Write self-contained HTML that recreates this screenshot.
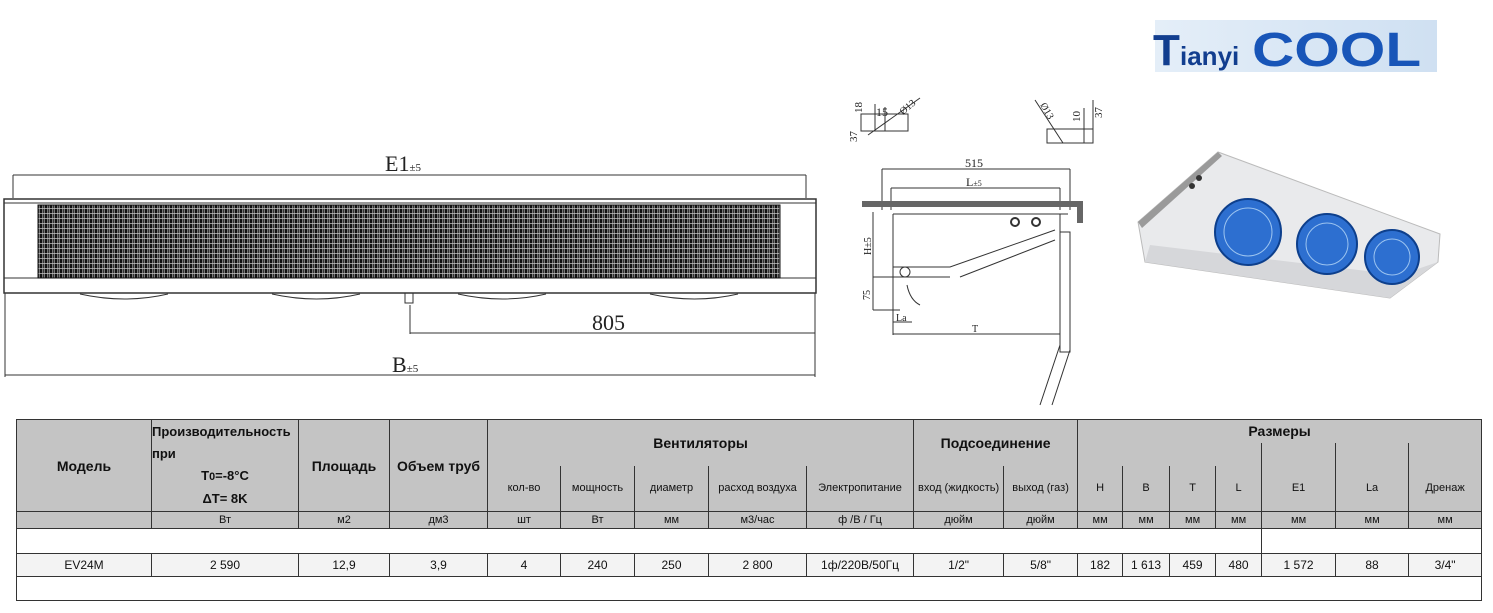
<!DOCTYPE html>
<html><head><meta charset="utf-8">
<style>
body{margin:0;width:1493px;height:613px;background:#fff;position:relative;overflow:hidden;font-family:"Liberation Sans","DejaVu Sans",sans-serif;}
svg{position:absolute;left:0;top:0}
table{position:absolute;left:16px;top:419px;border-collapse:collapse;table-layout:fixed;font-family:"Liberation Sans",sans-serif;color:#111}
td{border:1px solid #333;text-align:center;padding:0;font-size:11px;overflow:hidden;white-space:nowrap}
.h{background:#c4c4c4;border-top:none;border-bottom:none}
.b{font-weight:bold;font-size:14px}
.u{background:#c4c4c4;font-size:11px;height:16px;line-height:16px}
.d{background:#f3f3f3;font-size:12px;height:22px}
</style></head><body>
<svg width="1493" height="613" viewBox="0 0 1493 613">
<defs>
<pattern id="coil" width="5" height="5" patternUnits="userSpaceOnUse">
<rect width="5" height="5" fill="#777"/>
<rect x="0" y="0" width="2" height="5" fill="#111"/>
<rect x="3" y="0" width="1" height="5" fill="#333"/>
<rect x="0" y="3" width="5" height="1" fill="#ccc" opacity="0.7"/>
</pattern>
</defs>
<g stroke="#333" fill="none" stroke-width="1">
<line x1="13" y1="175" x2="806" y2="175"/>
<line x1="13" y1="175" x2="13" y2="198"/><line x1="806" y1="175" x2="806" y2="198"/>
<rect x="4" y="199" width="812" height="94" stroke-width="1.5"/>
<line x1="4" y1="278" x2="816" y2="278"/>
<line x1="4" y1="203" x2="816" y2="203"/>
<rect x="38" y="205" width="742" height="73" fill="url(#coil)" stroke="#111"/>
<line x1="410" y1="305" x2="410" y2="334"/>
<rect x="405" y="293" width="8" height="10"/>
<line x1="410" y1="333" x2="815" y2="333"/>
<line x1="815" y1="293" x2="815" y2="377"/>
<line x1="5" y1="293" x2="5" y2="377"/>
<line x1="5" y1="375" x2="815" y2="375"/>
<path d="M80 294 Q125 304 168 294 M272 294 Q317 304 360 294 M458 294 Q503 304 546 294 M650 294 Q695 304 738 294"/>
<rect x="861" y="114" width="47" height="17"/>
<line x1="875" y1="104" x2="875" y2="131"/><line x1="885" y1="107" x2="885" y2="131"/>
<line x1="868" y1="135" x2="920" y2="98"/>
<rect x="1047" y="129" width="46" height="14"/>
<line x1="1093" y1="100" x2="1093" y2="143"/><line x1="1084" y1="108" x2="1084" y2="143"/>
<line x1="1035" y1="100" x2="1063" y2="143"/>
<line x1="882" y1="169" x2="1070" y2="169"/>
<line x1="882" y1="169" x2="882" y2="210"/><line x1="1070" y1="169" x2="1070" y2="210"/>
<line x1="891" y1="188" x2="1060" y2="188"/>
<line x1="891" y1="188" x2="891" y2="210"/><line x1="1060" y1="188" x2="1060" y2="210"/>
<line x1="893" y1="214" x2="893" y2="335"/>
<line x1="1060" y1="214" x2="1060" y2="345"/>
<path d="M893 214 H1068 M893 267 H950 L1055 230 M960 277 L1055 240 M893 277 H950"/>
<rect x="1060" y="232" width="10" height="120"/>
<path d="M1060 345 L1040 405 M1070 350 L1052 405"/>
<line x1="873" y1="212" x2="873" y2="310"/>
<line x1="873" y1="277" x2="900" y2="277"/>
<line x1="873" y1="310" x2="900" y2="310"/>
<line x1="893" y1="322" x2="912" y2="322"/>
<line x1="893" y1="334" x2="1060" y2="334"/>
<path d="M907 285 Q910 300 920 305"/>
<circle cx="1015" cy="222" r="4" stroke-width="2"/><circle cx="1036" cy="222" r="4" stroke-width="2"/>
<circle cx="905" cy="272" r="5"/>
</g>
<rect x="862" y="201" width="220" height="6" fill="#666"/>
<rect x="1077" y="201" width="6" height="22" fill="#666"/>
<g font-family="Liberation Serif,serif" fill="#222">
<text x="385" y="171" font-size="22">E1<tspan font-size="11">±5</tspan></text>
<text x="592" y="330" font-size="22">805</text>
<text x="392" y="372" font-size="22">B<tspan font-size="11">±5</tspan></text>
<text x="965" y="167" font-size="12">515</text>
<text x="966" y="186" font-size="12">L<tspan font-size="8">±5</tspan></text>
<text x="972" y="332" font-size="10">T</text>
<text x="896" y="321" font-size="10">La</text>
<text x="870" y="300" font-size="10" transform="rotate(-90 870 300)">75</text>
<text x="871" y="255" font-size="10" transform="rotate(-90 871 255)">H±5</text>
<text x="862" y="113" font-size="11" transform="rotate(-90 862 113)">18</text>
<text x="857" y="142" font-size="11" transform="rotate(-90 857 142)">37</text>
<text x="876" y="116" font-size="12">15</text>
<text x="903" y="115" font-size="10" transform="rotate(-40 903 115)">Ø13</text>
<text x="1080" y="122" font-size="11" transform="rotate(-90 1080 122)">10</text>
<text x="1102" y="118" font-size="11" transform="rotate(-90 1102 118)">37</text>
<text x="1040" y="105" font-size="10" transform="rotate(60 1040 105)">Ø13</text>
</g>
<defs><linearGradient id="lg" x1="0" x2="1"><stop offset="0" stop-color="#e4eef8"/><stop offset="1" stop-color="#cfe0f2"/></linearGradient></defs>
<rect x="1155" y="20" width="282" height="52" fill="url(#lg)"/>
<text x="1153" y="65" font-family="Liberation Sans,sans-serif" font-weight="bold" font-size="44" fill="#123e8f">T</text>
<text x="1180" y="65" font-family="Liberation Sans,sans-serif" font-weight="bold" font-size="26" fill="#123e8f">ianyi</text>
<text x="1252" y="66" font-family="Liberation Sans,sans-serif" font-weight="bold" font-size="48" fill="#1855b8" transform="translate(1252 0) scale(1.22 1) translate(-1252 0)">COOL</text>
<polygon points="1138,222 1218,152 1440,234 1438,262 1390,298 1145,262" fill="#e9eaec" stroke="#bbb"/>
<polygon points="1138,222 1218,152 1222,156 1142,228" fill="#9a9a9a"/>
<polygon points="1145,262 1390,298 1438,262 1400,275 1150,245" fill="#d6d7da"/>
<circle cx="1192" cy="186" r="3" fill="#333"/><circle cx="1199" cy="178" r="3" fill="#333"/>
<g stroke="#0d3f8c" stroke-width="2">
<circle cx="1248" cy="232" r="33" fill="#2d6fd0"/><circle cx="1248" cy="232" r="24" fill="none" stroke="#9cc4f0" stroke-width="1"/>
<circle cx="1327" cy="244" r="30" fill="#2d6fd0"/><circle cx="1327" cy="244" r="21" fill="none" stroke="#9cc4f0" stroke-width="1"/>
<circle cx="1392" cy="257" r="27" fill="#2d6fd0"/><circle cx="1392" cy="257" r="18" fill="none" stroke="#9cc4f0" stroke-width="1"/>
</g>
</svg>
<table style="width:1465px">
<colgroup>
<col style="width:135px"><col style="width:147px"><col style="width:91px"><col style="width:98px">
<col style="width:73px"><col style="width:74px"><col style="width:74px"><col style="width:98px"><col style="width:107px">
<col style="width:90px"><col style="width:74px">
<col style="width:45px"><col style="width:47px"><col style="width:46px"><col style="width:46px">
<col style="width:74px"><col style="width:73px"><col style="width:73px">
</colgroup>
<tr style="height:23px">
<td class="h b" rowspan="3" style="border-top:1px solid #333">Модель</td>
<td class="h" rowspan="3" style="border-top:1px solid #333;text-align:left;font-size:13px;font-weight:bold;line-height:22px;white-space:normal">Производительность<br>при<br><span style="display:block;text-align:center">T<small>0</small>=-8°C<br>ΔT= 8K</span></td>
<td class="h b" rowspan="3" style="border-top:1px solid #333">Площадь</td>
<td class="h b" rowspan="3" style="border-top:1px solid #333">Объем труб</td>
<td class="h b" colspan="5" rowspan="2" style="border-top:1px solid #333;border-bottom:none">Вентиляторы</td>
<td class="h b" colspan="2" rowspan="2" style="border-top:1px solid #333">Подсоединение</td>
<td class="h b" colspan="7" style="border-top:1px solid #333;border-bottom:none">Размеры</td>
</tr>
<tr style="height:23px">
<td class="h" colspan="4" style="border-top:none"></td>
<td class="h" style="border-bottom:none"></td><td class="h"></td><td class="h"></td>
</tr>
<tr style="height:46px">
<td class="h">кол-во</td><td class="h">мощность</td><td class="h">диаметр</td><td class="h">расход воздуха</td><td class="h">Электропитание</td>
<td class="h">вход (жидкость)</td><td class="h">выход (газ)</td>
<td class="h">H</td><td class="h">B</td><td class="h">T</td><td class="h">L</td><td class="h">E1</td><td class="h">La</td><td class="h">Дренаж</td>
</tr>
<tr>
<td class="u"></td><td class="u">Вт</td><td class="u">м2</td><td class="u">дм3</td><td class="u">шт</td><td class="u">Вт</td><td class="u">мм</td><td class="u">м3/час</td><td class="u">ф /В / Гц</td><td class="u">дюйм</td><td class="u">дюйм</td><td class="u">мм</td><td class="u">мм</td><td class="u">мм</td><td class="u">мм</td><td class="u">мм</td><td class="u">мм</td><td class="u">мм</td>
</tr>
<tr style="height:25px"><td colspan="15"></td><td colspan="3"></td></tr>
<tr>
<td class="d">EV24M</td><td class="d">2 590</td><td class="d">12,9</td><td class="d">3,9</td><td class="d">4</td><td class="d">240</td><td class="d">250</td><td class="d">2 800</td><td class="d">1ф/220В/50Гц</td><td class="d">1/2"</td><td class="d">5/8"</td><td class="d">182</td><td class="d">1 613</td><td class="d">459</td><td class="d">480</td><td class="d">1 572</td><td class="d">88</td><td class="d">3/4"</td>
</tr>
<tr style="height:24px"><td colspan="18"></td></tr>
</table>
</body></html>
